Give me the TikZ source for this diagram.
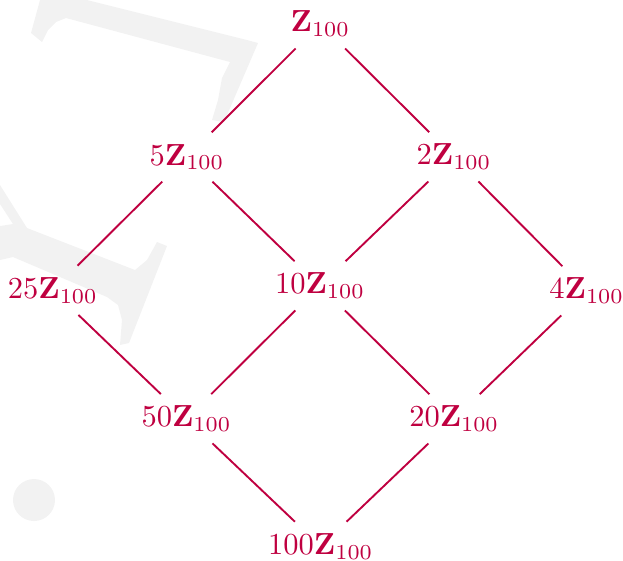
\documentclass[tikz,border=0pt]{standalone}
\begin{document}
\begin{tikzpicture}[x=0.328pt,y=-0.328pt,
  lbl/.style={text=purple, inner sep=3.9pt, outer sep=0pt},
  edge/.style={draw=purple, line width=0.62pt},
  wm/.style={fill=black!5, draw=none}]
\useasboundingbox (0,0) rectangle (623,560);
% faint watermark
\fill[wm] (38,-3) -- (40,0) -- (31,33) -- (42,42) -- (48,30) -- (56,22) -- (66,18)
  -- (230,62) -- (222,78) -- (218,100) -- (212,120) -- (224,122) -- (258,43)
  -- (247,40) -- (87,0) -- (75,-3) -- cycle;
\fill[wm] (-3,180) -- (0,185) -- (27,228) -- (135,270) -- (147,260) -- (157,242)
  -- (167,246) -- (129,343) -- (120,345) -- (122,320) -- (118,305) -- (107,297)
  -- (13,257) -- (0,260) -- (0,226) -- (13,224) -- (0,204) -- cycle;
\fill[wm] (34,500) circle[radius=21];
% nodes
\node[lbl] (z)   at (320.3,23.8)  {$\mathbf{Z}_{100}$};
\node[lbl] (n5)  at (187,157)     {$5\mathbf{Z}_{100}$};
\node[lbl] (n2)  at (454,156.8)   {$2\mathbf{Z}_{100}$};
\node[lbl] (n25) at (52.8,290.3)  {$25\mathbf{Z}_{100}$};
\node[lbl] (n10) at (320,285.8)   {$10\mathbf{Z}_{100}$};
\node[lbl] (n4)  at (586.7,290.8) {$4\mathbf{Z}_{100}$};
\node[lbl] (n50) at (186.5,418.7) {$50\mathbf{Z}_{100}$};
\node[lbl] (n20) at (454.2,418.8) {$20\mathbf{Z}_{100}$};
\node[lbl] (n100) at (320.8,546.3) {$100\mathbf{Z}_{100}$};
% edges
\draw[edge] (z) -- (n5);
\draw[edge] (z) -- (n2);
\draw[edge] (n5) -- (n25);
\draw[edge] (n5) -- (n10);
\draw[edge] (n2) -- (n10);
\draw[edge] (n2) -- (n4);
\draw[edge] (n25) -- (n50);
\draw[edge] (n10) -- (n50);
\draw[edge] (n10) -- (n20);
\draw[edge] (n4) -- (n20);
\draw[edge] (n50) -- (n100);
\draw[edge] (n20) -- (n100);
\end{tikzpicture}
\end{document}
